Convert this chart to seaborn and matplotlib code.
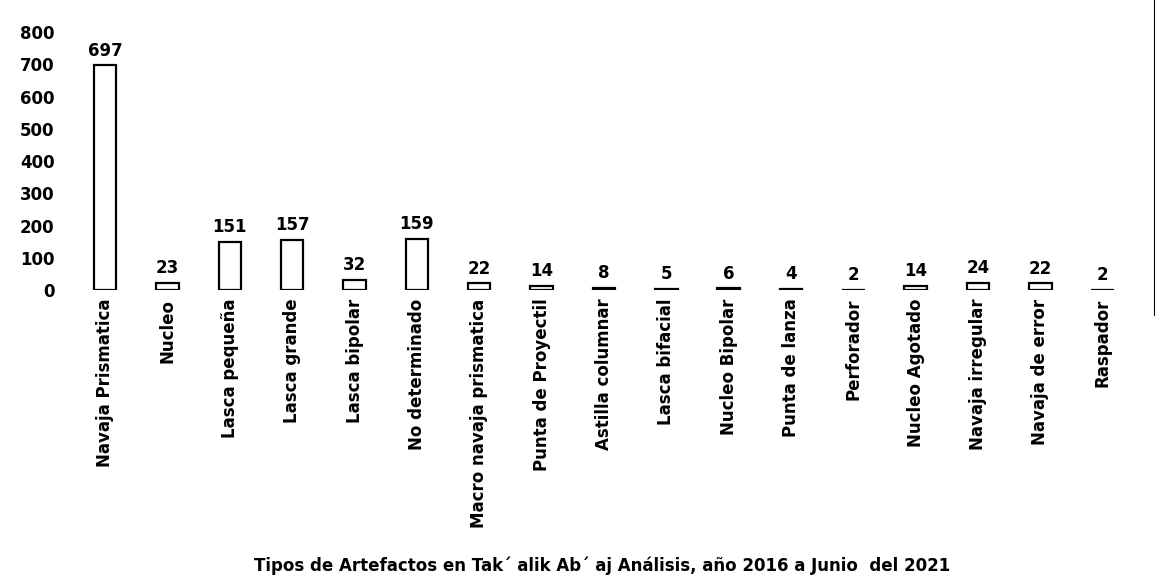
import matplotlib
matplotlib.use("Agg")
import matplotlib.pyplot as plt
import seaborn as sns
import pandas as pd
from matplotlib import font_manager

categories = ["Navaja Prismatica", "Nucleo", "Lasca pequeña", "Lasca grande", "Lasca bipolar",
              "No determinado", "Macro navaja prismatica", "Punta de Proyectil", "Astilla columnar",
              "Lasca bifacial", "Nucleo Bipolar", "Punta de lanza", "Perforador", "Nucleo Agotado",
              "Navaja irregular", "Navaja de error", "Raspador"]
values = [697, 23, 151, 157, 32, 159, 22, 14, 8, 5, 6, 4, 2, 14, 24, 22, 2]
yticks = [0, 100, 200, 300, 400, 500, 600, 700, 800]
title = "Tipos de Artefactos en Tak´ alik Ab´ aj Análisis, año 2016 a Junio  del 2021"

sns.set_theme(style="white")
names = {f.name for f in font_manager.fontManager.ttflist}
fam = "Liberation Sans Narrow" if "Liberation Sans Narrow" in names else "DejaVu Sans"
plt.rcParams["font.family"] = [fam, "DejaVu Sans"]
plt.rcParams["text.color"] = "black"
plt.rcParams["xtick.color"] = "black"
plt.rcParams["ytick.color"] = "black"

df = pd.DataFrame({"cat": categories, "val": values})
fig = plt.figure(figsize=(11.57, 5.84), dpi=100)
ax = fig.add_axes([0.064, 0.503, 0.916, 0.442])
sns.barplot(data=df, x="cat", y="val", color="white", edgecolor="black", linewidth=1.6,
            width=0.36, ax=ax)
ax.set_ylim(0, 800)
ax.set_yticks(yticks)
ax.set_yticklabels([str(t) for t in yticks], fontsize=12, fontweight="bold", color="black")
ax.set_xticks(range(len(categories)))
ax.set_xticklabels(categories, rotation=90, fontsize=12, fontweight="bold", color="black")
ax.tick_params(axis="both", length=0, pad=6)
ax.tick_params(axis="y", pad=14)
for s in ax.spines.values():
    s.set_visible(False)
ax.set_xlabel("")
ax.set_ylabel("")
for c in ax.containers:
    ax.bar_label(c, labels=[str(v) for v in values], padding=4, fontsize=12,
                 fontweight="bold", color="black")
fig.text(0.52, 0.032, title, ha="center", va="center", fontsize=12, fontweight="bold", color="black")
fig.add_artist(plt.Line2D([0.997, 0.997], [0.46, 1.0], transform=fig.transFigure, color="black", lw=0.8))
fig.savefig("out.png", dpi=100)
